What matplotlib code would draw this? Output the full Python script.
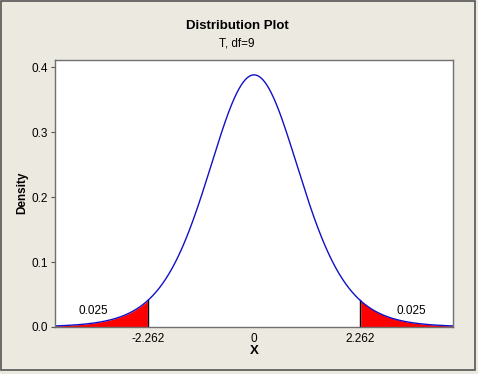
import math
import numpy as np
import matplotlib
matplotlib.use("Agg")
from matplotlib import pyplot as plt
from matplotlib.patches import Rectangle

# chart parameters
df = 9
crit = [-2.262, 2.262]
tail_area = ["0.025", "0.025"]
x_ticks = [-2.262, 0, 2.262]
x_tick_labels = ["-2.262", "0", "2.262"]
y_ticks = [0.0, 0.1, 0.2, 0.3, 0.4]
y_tick_labels = ["0.0", "0.1", "0.2", "0.3", "0.4"]

# Student t density for df=9
x = np.linspace(-4.24, 4.24, 600)
c = math.gamma((df + 1) / 2) / (math.sqrt(df * math.pi) * math.gamma(df / 2))
y = c * (1 + x ** 2 / df) ** (-(df + 1) / 2)

bg = "#ECE9E0"
plt.rcParams["font.family"] = ["Liberation Sans", "DejaVu Sans"]
fig = plt.figure(figsize=(4.78, 3.74), dpi=100, facecolor=bg)
fig.patches.append(Rectangle((0.003, 0.012), 0.99, 0.984, transform=fig.transFigure,
                             fill=False, edgecolor="#555555", linewidth=1.2))
ax = fig.add_axes([0.115, 0.1257, 0.833, 0.714])
ax.set_facecolor("white")

left = x <= crit[0]
right = x >= crit[1]
ax.fill_between(x[left], 0, y[left], color="#FF0000", linewidth=0)
ax.fill_between(x[right], 0, y[right], color="#FF0000", linewidth=0)
for cv in crit:
    yc = c * (1 + cv ** 2 / df) ** (-(df + 1) / 2)
    ax.plot([cv, cv], [0, yc], color="black", linewidth=1)
ax.plot(x, y, color="#1010C8", linewidth=1)

ax.text(-3.43, 0.0245, tail_area[0], fontsize=8.5, ha="center", va="center")
ax.text(3.35, 0.0245, tail_area[1], fontsize=8.5, ha="center", va="center")

ax.set_xlim(-4.24, 4.24)
ax.set_ylim(0, 0.411)
ax.set_xticks(x_ticks)
ax.set_xticklabels(x_tick_labels)
ax.set_yticks(y_ticks)
ax.set_yticklabels(y_tick_labels)
ax.tick_params(axis="y", length=3, width=0.8, color="#555555", labelsize=8.5, pad=2)
ax.tick_params(axis="x", length=0, labelsize=8.5, pad=4)
for s in ax.spines.values():
    s.set_color("#707070")
    s.set_linewidth(1.0)

fig.text(254 / 478, 1 - 351 / 374, "X", ha="center", va="center", fontsize=9.5, fontweight="bold")
fig.text(22 / 478, 1 - 193 / 374, "Density", rotation=90, ha="center", va="center",
         fontsize=8.5, fontweight="bold")
fig.text(0.497, 1 - 26 / 374, "Distribution Plot", ha="center", va="center", fontsize=9.5, fontweight="bold")
fig.text(0.495, 1 - 43 / 374, "T, df=9", ha="center", va="center", fontsize=8.5)

plt.savefig("out.png", dpi=100, facecolor=bg)
